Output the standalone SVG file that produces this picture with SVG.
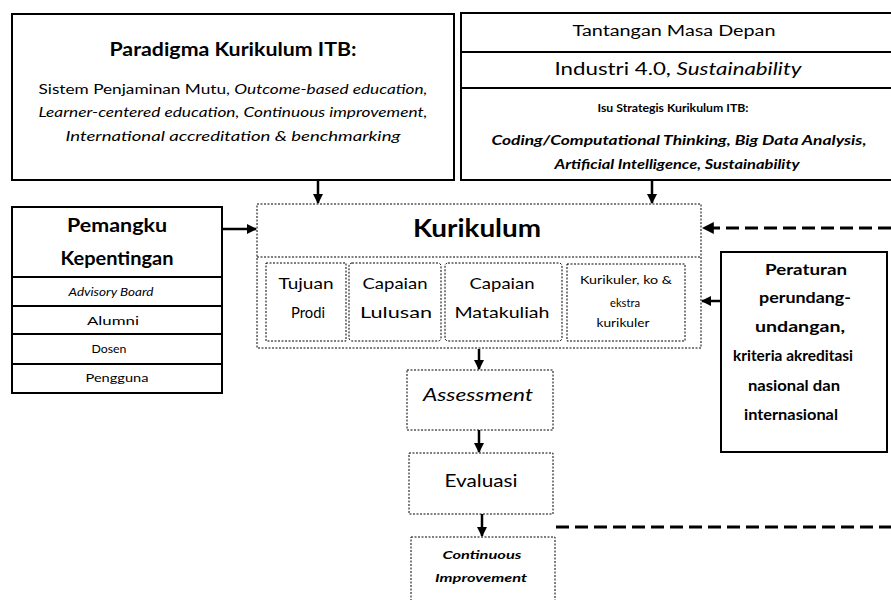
<svg xmlns="http://www.w3.org/2000/svg" width="891" height="600" viewBox="0 0 891 600">
<defs>
<style>
text{font-family:Lato,"Open Sans",sans-serif;fill:#000;text-anchor:middle}
.solid{fill:#fff;stroke:#000;stroke-width:2}
.dot{fill:#fff;stroke:#000;stroke-width:1;stroke-dasharray:2 1.5}
.b{font-weight:bold}
.i{font-style:italic}
.ln{stroke:#000;stroke-width:2.5;fill:none}
.dash{stroke:#000;stroke-width:3;fill:none;stroke-dasharray:13 6}
</style>
<marker id="ah" viewBox="0 0 10 10" refX="9" refY="5" markerWidth="4" markerHeight="4" orient="auto" markerUnits="strokeWidth">
<path d="M0,0 L10,5 L0,10 Z" fill="#000"/>
</marker>
</defs>

<g id="paradigma">
<rect class="solid" x="12" y="14" width="442" height="166"/>
<text class="b" x="233" y="56" font-size="18" textLength="247" lengthAdjust="spacingAndGlyphs">Paradigma Kurikulum ITB:</text>
<text x="233" y="94" font-size="13.5" textLength="389" lengthAdjust="spacingAndGlyphs">Sistem Penjaminan Mutu, <tspan class="i">Outcome-based education,</tspan></text>
<text class="i" x="233" y="117" font-size="13.5" textLength="389" lengthAdjust="spacingAndGlyphs">Learner-centered education, Continuous improvement,</text>
<text class="i" x="233" y="141" font-size="13.5" textLength="335" lengthAdjust="spacingAndGlyphs">International accreditation &amp; benchmarking</text>
</g>

<g id="tantangan">
<rect class="solid" x="461" y="13" width="432" height="167"/>
<line x1="461" y1="52" x2="891" y2="52" stroke="#000" stroke-width="2"/>
<line x1="461" y1="88" x2="891" y2="88" stroke="#000" stroke-width="2"/>
<text x="674" y="36" font-size="15.5" textLength="203" lengthAdjust="spacingAndGlyphs">Tantangan Masa Depan</text>
<text x="678" y="75" font-size="16.5" textLength="247" lengthAdjust="spacingAndGlyphs">Industri 4.0, <tspan class="i">Sustainability</tspan></text>
<text class="b" x="673" y="112" font-size="12" textLength="151" lengthAdjust="spacingAndGlyphs">Isu Strategis Kurikulum ITB:</text>
<text class="b i" x="679" y="145" font-size="12.5" textLength="375" lengthAdjust="spacingAndGlyphs">Coding/Computational  Thinking, Big Data Analysis,</text>
<text class="b i" x="677" y="169" font-size="12.5" textLength="245" lengthAdjust="spacingAndGlyphs">Artificial Intelligence, Sustainability</text>
</g>

<g id="pemangku">
<rect class="solid" x="12" y="207" width="210" height="186"/>
<line x1="12" y1="277" x2="222" y2="277" stroke="#000" stroke-width="2"/>
<line x1="12" y1="306" x2="222" y2="306" stroke="#000" stroke-width="2"/>
<line x1="12" y1="334" x2="222" y2="334" stroke="#000" stroke-width="2"/>
<line x1="12" y1="364" x2="223" y2="364" stroke="#000" stroke-width="2"/>
<text class="b" x="117" y="232" font-size="19" textLength="100" lengthAdjust="spacingAndGlyphs">Pemangku</text>
<text class="b" x="117" y="265" font-size="19" textLength="113" lengthAdjust="spacingAndGlyphs">Kepentingan</text>
<text class="i" x="111" y="296" font-size="11.5" textLength="85" lengthAdjust="spacingAndGlyphs">Advisory Board</text>
<text x="113" y="325" font-size="11.5" textLength="52" lengthAdjust="spacingAndGlyphs">Alumni</text>
<text x="109" y="353" font-size="11.5" textLength="35" lengthAdjust="spacingAndGlyphs">Dosen</text>
<text x="117" y="382" font-size="11.5" textLength="63" lengthAdjust="spacingAndGlyphs">Pengguna</text>
</g>

<g id="kurikulum">
<rect class="dot" x="257" y="204" width="444" height="144"/>
<line x1="257" y1="257" x2="701" y2="257" stroke="#000" stroke-width="1" stroke-dasharray="2 1.5"/>
<text class="b" x="477" y="237" font-size="25" textLength="128" lengthAdjust="spacingAndGlyphs">Kurikulum</text>
</g>

<g id="tujuan">
<rect class="dot" x="266" y="263" width="80" height="78" stroke-dasharray="4 1.5 1 1.5"/>
<text x="306" y="289" font-size="16" textLength="55" lengthAdjust="spacingAndGlyphs">Tujuan</text>
<text x="308" y="318" font-size="16" textLength="34" lengthAdjust="spacingAndGlyphs">Prodi</text>
</g>

<g id="capaian-lulusan">
<rect class="dot" x="349" y="263" width="92" height="78" rx="3"/>
<text x="395" y="289" font-size="16" textLength="65" lengthAdjust="spacingAndGlyphs">Capaian</text>
<text x="396" y="318" font-size="16" textLength="72" lengthAdjust="spacingAndGlyphs">Lulusan</text>
</g>

<g id="capaian-matakuliah">
<rect class="dot" x="445" y="263" width="117" height="78" rx="3"/>
<text x="502" y="289" font-size="16" textLength="65" lengthAdjust="spacingAndGlyphs">Capaian</text>
<text x="502" y="318" font-size="16" textLength="95" lengthAdjust="spacingAndGlyphs">Matakuliah</text>
</g>

<g id="kurikuler">
<rect class="dot" x="567" y="264" width="118" height="77"/>
<text x="626" y="284" font-size="11.5" textLength="92" lengthAdjust="spacingAndGlyphs">Kurikuler, ko &amp;</text>
<text x="625" y="307" font-size="11.5" textLength="30" lengthAdjust="spacingAndGlyphs">ekstra</text>
<text x="623" y="327" font-size="11.5" textLength="53" lengthAdjust="spacingAndGlyphs">kurikuler</text>
</g>

<g id="peraturan">
<rect class="solid" x="721" y="252" width="166" height="200" stroke-width="2.5"/>
<text class="b" x="806" y="275" font-size="16" textLength="82" lengthAdjust="spacingAndGlyphs">Peraturan</text>
<text class="b" x="805" y="303" font-size="16" textLength="92" lengthAdjust="spacingAndGlyphs">perundang-</text>
<text class="b" x="800" y="332" font-size="16" textLength="90" lengthAdjust="spacingAndGlyphs">undangan,</text>
<text class="b" x="793" y="361" font-size="16" textLength="120" lengthAdjust="spacingAndGlyphs">kriteria akreditasi</text>
<text class="b" x="794" y="391" font-size="16" textLength="92" lengthAdjust="spacingAndGlyphs">nasional dan</text>
<text class="b" x="791" y="420" font-size="16" textLength="94" lengthAdjust="spacingAndGlyphs">internasional</text>
</g>

<g id="assessment">
<rect class="dot" x="407" y="370" width="146" height="60"/>
<text class="i" x="478" y="401" font-size="17" textLength="110" lengthAdjust="spacingAndGlyphs">Assessment</text>
</g>

<g id="evaluasi">
<rect class="dot" x="409" y="453" width="144" height="61"/>
<text x="481" y="487" font-size="17" textLength="73" lengthAdjust="spacingAndGlyphs">Evaluasi</text>
</g>

<g id="continuous">
<rect class="dot" x="411" y="537" width="144" height="70"/>
<text class="b i" x="482" y="559" font-size="11.5" textLength="79" lengthAdjust="spacingAndGlyphs">Continuous</text>
<text class="b i" x="481" y="582" font-size="11.5" textLength="92" lengthAdjust="spacingAndGlyphs">Improvement</text>
</g>

<g id="connectors">
<line class="ln" x1="318" y1="180" x2="318" y2="203" marker-end="url(#ah)"/>
<line class="ln" x1="652" y1="180" x2="652" y2="203" marker-end="url(#ah)"/>
<line class="ln" x1="222" y1="229" x2="256" y2="229" marker-end="url(#ah)"/>
<line class="dash" x1="891" y1="228" x2="703" y2="228" marker-end="url(#ah)"/>
<line class="ln" x1="721" y1="301" x2="702" y2="301" marker-end="url(#ah)"/>
<line class="ln" x1="479" y1="349" x2="479" y2="369" marker-end="url(#ah)"/>
<line class="ln" x1="479" y1="430" x2="479" y2="452" marker-end="url(#ah)"/>
<line class="ln" x1="482" y1="514" x2="482" y2="536" marker-end="url(#ah)"/>
<line class="dash" x1="556" y1="527" x2="891" y2="527"/>
</g>
</svg>
